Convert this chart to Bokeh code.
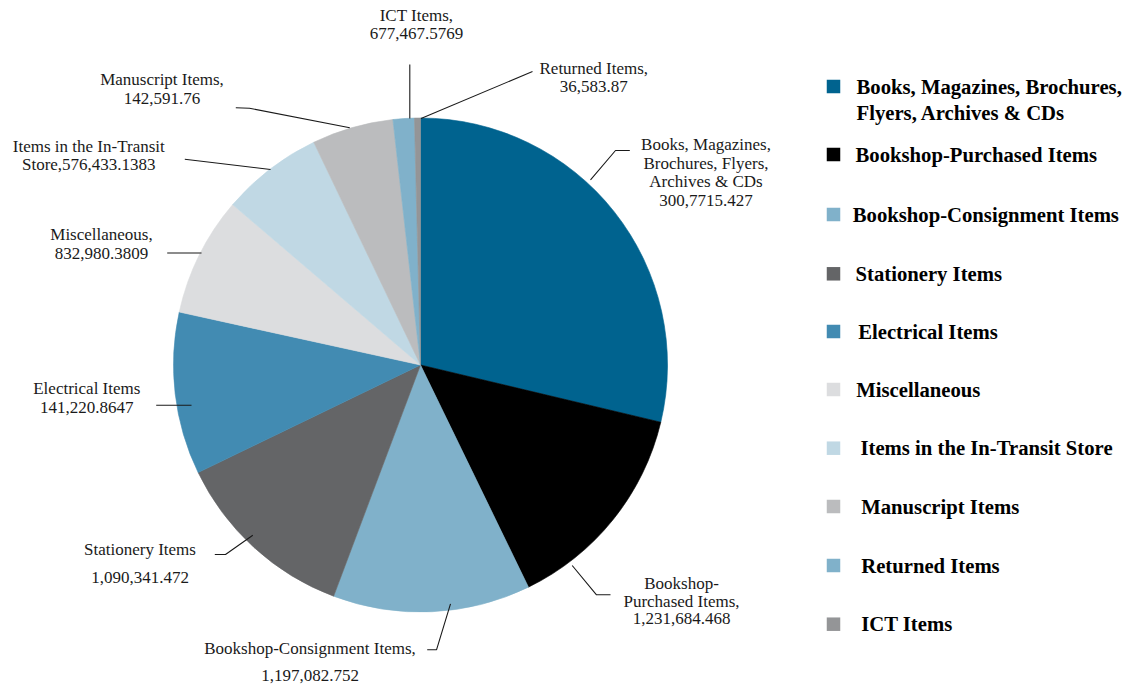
import math
from bokeh.plotting import figure
from bokeh.models import Range1d, ColumnDataSource
from bokeh.core.properties import value
from bokeh.embed import file_html
from bokeh.resources import INLINE

# ---------------- data ----------------
categories = [
    "Books, Magazines, Brochures, Flyers, Archives & CDs",
    "Bookshop-Purchased Items",
    "Bookshop-Consignment Items",
    "Stationery Items",
    "Electrical Items",
    "Miscellaneous",
    "Items in the In-Transit Store",
    "Manuscript Items",
    "Returned Items",
    "ICT Items",
]
# slice shares (percent)
shares = [28.72, 14.08, 12.92, 12.11, 10.61, 7.81, 6.64, 5.33, 1.39, 0.39]
# data-label values as printed on the chart
value_labels = [
    "300,7715.427", "1,231,684.468", "1,197,082.752", "1,090,341.472",
    "141,220.8647", "832,980.3809", "576,433.1383", "142,591.76",
    "36,583.87", "677,467.5769",
]
colors = [
    "#00638F", "#000000", "#80B1CA", "#646567", "#428BB2",
    "#DCDDDF", "#C0D8E4", "#BBBCBE", "#80B1CA", "#949597",
]
# label name lines (as wrapped on the chart)
label_names = [
    ["Books, Magazines,", "Brochures, Flyers,", "Archives & CDs"],
    ["Bookshop-", "Purchased Items,"],
    ["Bookshop-Consignment Items,"],
    ["Stationery Items"],
    ["Electrical Items"],
    ["Miscellaneous,"],
    ["Items in the In-Transit"],
    ["Manuscript Items,"],
    ["Returned Items,"],
    ["ICT Items,"],
]
legend_text = [
    ["Books, Magazines, Brochures,", "Flyers, Archives & CDs"],
    ["Bookshop-Purchased Items"],
    ["Bookshop-Consignment Items"],
    ["Stationery Items"],
    ["Electrical Items"],
    ["Miscellaneous"],
    ["Items in the In-Transit Store"],
    ["Manuscript Items"],
    ["Returned Items"],
    ["ICT Items"],
]

# ---------------- layout (picture pixel coordinates) ----------------
W, H = 1132, 689
def fy(Y):
    return H - Y

CX, CY, R = 420, 364.5, 247

label_cx = [705.5, 681, 309.5, 139.5, 86.3, 101, 88.3, 161.5, 593.3, 416]
label_ys = [
    [144, 162.5, 181, 200],
    [583, 600.5, 618],
    [648, 674.5],
    [548.5, 576.5],
    [388, 407],
    [234, 252.5],
    [146, 164],
    [79, 97.5],
    [68, 85.5],
    [15, 33],
]
leaders = [
    [(629.3, 150), (615, 150), (590, 179.3)],
    [(610, 594.3), (596, 594.3), (571.7, 565)],
    [(426.7, 649.3), (436, 649.3), (450, 603.3)],
    [(214.3, 554), (225, 554), (252.3, 534.7)],
    [(155.7, 404.7), (191, 404.7)],
    [(166.7, 252.5), (201, 252.5)],
    [(184.3, 158.7), (270, 169)],
    [(235.3, 107.3), (249, 107.7), (349.3, 127.3)],
    [(532, 71), (420.5, 118)],
    [(409.3, 64), (409.3, 118)],
]
legend_sq_x = 833
legend_rows = [86, 154, 214, 273.3, 331, 389, 447.7, 506, 565, 623.7]
legend_tx = [856, 855, 852.3, 855, 857.7, 855.7, 860, 860.7, 860.7, 860.7]
legend_line_gap = 26

# ---------------- figure ----------------
p = figure(width=W, height=H, x_range=Range1d(0, W), y_range=Range1d(0, H),
           output_backend="svg", toolbar_location=None, min_border=0,
           x_axis_location=None, y_axis_location=None,
           outline_line_color=None, background_fill_color="white",
           border_fill_color="white")
p.xgrid.visible = False
p.ygrid.visible = False

# wedges: clockwise from 12 o'clock
total = sum(shares)
starts, ends = [], []
cum = 0.0
for s in shares:
    a_hi = math.pi / 2 - 2 * math.pi * cum / total
    cum += s
    a_lo = math.pi / 2 - 2 * math.pi * cum / total
    starts.append(a_lo)
    ends.append(a_hi)
src = ColumnDataSource(dict(start=starts, end=ends, color=colors, cat=categories, share=shares))
p.wedge(x=CX, y=fy(CY), radius=R, start_angle="start", end_angle="end",
        direction="anticlock", fill_color="color", line_color="color",
        line_width=0.6, source=src)

# leader lines
p.multi_line(xs=[[pt[0] for pt in L] for L in leaders],
             ys=[[fy(pt[1]) for pt in L] for L in leaders],
             line_color="#1a1a1a", line_width=1.1)

# data labels
lx, ly, lt = [], [], []
for i in range(len(categories)):
    lines = label_names[i] + [value_labels[i]]
    if i == 6:  # "Store," joined with the value on the chart
        lines = [label_names[i][0], "Store," + value_labels[i]]
    for j, t in enumerate(lines):
        lx.append(label_cx[i])
        ly.append(fy(label_ys[i][j]))
        lt.append(t)
p.text(x=lx, y=ly, text=lt, text_font=value("Liberation Serif"), text_font_size="17px",
       text_align="center", text_baseline="middle", text_color="#1a1a1a")

# legend
p.rect(x=[legend_sq_x] * len(categories), y=[fy(v) for v in legend_rows],
       width=13.5, height=13.5, fill_color=colors, line_color=None)
gx, gy, gt = [], [], []
for i in range(len(categories)):
    for j, t in enumerate(legend_text[i]):
        gx.append(legend_tx[i])
        gy.append(fy(legend_rows[i] + j * legend_line_gap))
        gt.append(t)
p.text(x=gx, y=gy, text=gt, text_font=value("Liberation Serif"), text_font_style="bold",
       text_font_size="20.7px", text_align="left", text_baseline="middle", text_color="#000000")

open("out.html", "w").write(file_html(p, INLINE))
